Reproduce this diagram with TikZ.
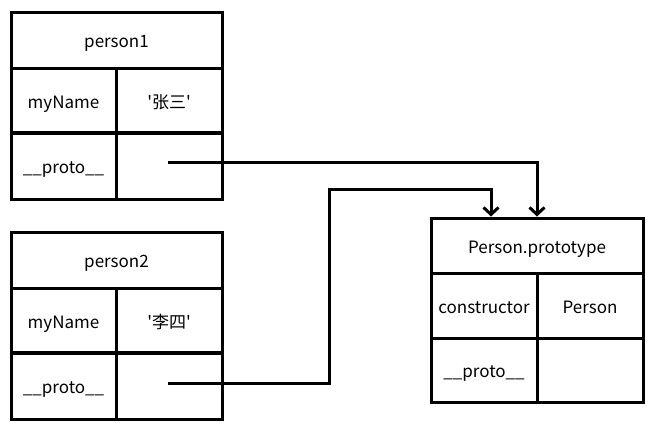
\documentclass[tikz,border=0pt]{standalone}
\usepackage{fontspec}
\newfontfamily\cjk{Noto Sans CJK SC}
\usetikzlibrary{arrows.meta}
\tikzset{
    cell/.style={draw, line width=3pt, inner sep=0pt, text height=15pt, text depth=0pt, font=\cjk\fontsize{17}{20}\selectfont},
    arr/.style={line width=3pt, -{Straight Barb[length=7pt,width=15pt,line width=3pt]}}
}
\begin{document}
\begin{tikzpicture}[x=1pt,y=-1pt]
            \useasboundingbox (0,0) rectangle (659,432);
            % the two person objects
            \foreach \n/\y/\v in {1/12/张三, 2/232/李四}{
                \node[cell, minimum width=211pt, minimum height=56pt] (p\n head) at (116.5,\y+28) {person\n};
                \node[cell, minimum width=105pt, minimum height=65pt] (p\n key) at (63.5,\y+88.5) {myName};
                \node[cell, minimum width=106pt, minimum height=65pt] (p\n val) at (169,\y+88.5) {'\v'};
                \node[cell, minimum width=105pt, minimum height=67pt] (p\n pkey) at (63.5,\y+154) {\_\_proto\_\_};
                \node[cell, minimum width=106pt, minimum height=67pt] (p\n pval) at (169,\y+154) {};
            }
            % the prototype object
            \node[cell, minimum width=212pt, minimum height=55pt] (ph) at (537,245.5) {Person.prototype};
            \node[cell, minimum width=106pt, minimum height=65pt] (pckey) at (484,305.5) {constructor};
            \node[cell, minimum width=106pt, minimum height=65pt] (pcval) at (590,305.5) {Person};
            \node[cell, minimum width=106pt, minimum height=64pt] (ppkey) at (484,370) {\_\_proto\_\_};
            \node[cell, minimum width=106pt, minimum height=64pt] (ppval) at (590,370) {};

            \coordinate (s1) at (168,162);
            \coordinate (s2) at (168,383);
            \draw[arr] (s1) -| (ph.north);
            \draw[arr] (s2) -- (329,383) |- ([xshift=-46pt,yshift=27pt]ph.north) -- ([xshift=-46pt]ph.north);
\end{tikzpicture}
\end{document}
